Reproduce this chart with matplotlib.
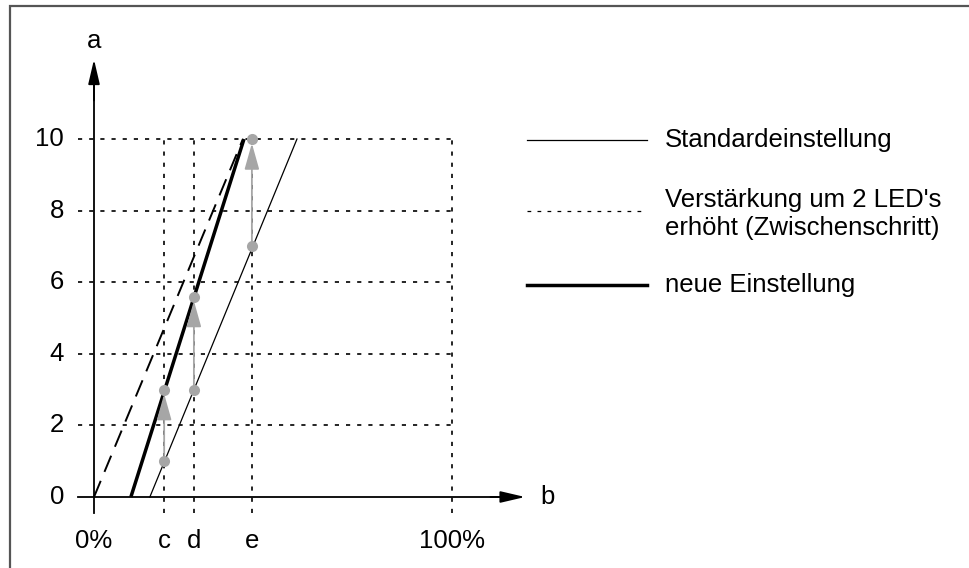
import matplotlib
matplotlib.use("Agg")
import matplotlib.pyplot as plt
from matplotlib.patches import Rectangle

plt.rcParams["font.family"] = ["Liberation Sans", "DejaVu Sans"]

# characteristic lines (x in %, y in units of a)
std_x = [15.6, 56.7]
std_y = [0, 10]
mid_x = [0, 41.6]
mid_y = [0, 10]
new_x = [10.3, 41.9]
new_y = [0, 10]

# gray step arrows at c, d, e
step_x = [19.6, 27.9, 44.1]
step_from = [1, 3, 7]
step_to = [3, 5.6, 10]

y_ticks = [0, 2, 4, 6, 8, 10]
x_marks = [0, 19.6, 27.9, 44.1, 100]
x_labels = ["0%", "c", "d", "e", "100%"]
grid_x = [19.6, 27.9, 44.1, 100]

legend_labels = ["Standardeinstellung",
                 "Verstärkung um 2 LED's\nerhöht (Zwischenschritt)",
                 "neue Einstellung"]

W, H = 969, 568
fig = plt.figure(figsize=(W / 100, H / 100), dpi=100)
ax = fig.add_axes([0, 0, 1, 1])
# map data to the picture: 0% at px 94, 100% at px 452; y 0 at px 497, 10 at px 139
px_x, px_y = 3.58, 35.8
ax.set_xlim(-94 / px_x, (W - 94) / px_x)
ax.set_ylim((497 - H) / px_y, 497 / px_y)
ax.axis("off")

FS = 18.5
grid_kw = dict(color="black", lw=1.2, ls=(0, (2.5, 4.2)), zorder=1)
for y in y_ticks[1:]:
    ax.plot([-4.5, 100], [y, y], **grid_kw)
for x in grid_x:
    ax.plot([x, x], [-0.45, 10], **grid_kw)

# axes with arrow heads
ax.plot([0, 0], [-0.45, 11.5], color="black", lw=1.3, zorder=3)
ax.plot([-4.5, 115], [0, 0], color="black", lw=1.3, zorder=3)
ax.annotate("", xy=(0, 12.3), xytext=(0, 11.0),
            arrowprops=dict(arrowstyle="-|>,head_length=1.5,head_width=0.35",
                            color="black", lw=1.3, mutation_scale=10))
ax.annotate("", xy=(121.2, 0), xytext=(110, 0),
            arrowprops=dict(arrowstyle="-|>,head_length=1.5,head_width=0.35",
                            color="black", lw=1.3, mutation_scale=10))
ax.text(0, 12.75, "a", ha="center", va="center", fontsize=FS)
ax.text(124.6, 0, "b", ha="left", va="center", fontsize=FS)

for y in y_ticks:
    ax.text(-8.4, y, str(y), ha="right", va="center", fontsize=FS)
for x, lab in zip(x_marks, x_labels):
    ax.text(x, -1.22, lab, ha="center", va="center", fontsize=FS)

# lines
ax.plot(std_x, std_y, color="black", lw=0.9, zorder=4)
ax.plot(mid_x, mid_y, color="black", lw=1.4, ls=(0, (9, 5)), zorder=4)
ax.plot(new_x, new_y, color="black", lw=2.5, zorder=4, solid_capstyle="butt")

# gray steps
gray = "#a6a6a6"
for x, y0, y1 in zip(step_x, step_from, step_to):
    ax.annotate("", xy=(x, y1 - 0.12), xytext=(x, y0),
                arrowprops=dict(arrowstyle="-|>,head_length=1.6,head_width=0.45",
                                color=gray, lw=1.3, mutation_scale=10,
                                shrinkA=0, shrinkB=0), zorder=5)
    ax.plot([x, x], [y0, y1], "o", color=gray, ms=8, mec="none", zorder=6)

# legend drawn by hand on the right
def fx(px):
    return px / W


def fy(px):
    return 1 - px / H


ax.plot([fx(527), fx(647)], [fy(140), fy(140)], color="black", lw=0.9,
        transform=fig.transFigure)
ax.plot([fx(527), fx(647)], [fy(211), fy(211)], color="black", lw=0.9,
        ls=(0, (3, 5)), transform=fig.transFigure)
ax.plot([fx(527), fx(647)], [fy(285), fy(285)], color="black", lw=2.5,
        transform=fig.transFigure)
ax.text(fx(665), fy(140), legend_labels[0], ha="left", va="center",
        fontsize=FS, transform=fig.transFigure)
ax.text(fx(665), fy(214), legend_labels[1], ha="left", va="center",
        fontsize=FS, linespacing=1.2, transform=fig.transFigure)
ax.text(fx(665), fy(285), legend_labels[2], ha="left", va="center",
        fontsize=FS, transform=fig.transFigure)

# frame (only top/left edges visible in the picture)
fig.patches.append(Rectangle((fx(10), fy(H + 20)), 1.2, fy(6) - fy(H + 20),
                             transform=fig.transFigure, fill=False,
                             edgecolor="#555555", lw=1.6))

fig.savefig("out.png", dpi=100)
